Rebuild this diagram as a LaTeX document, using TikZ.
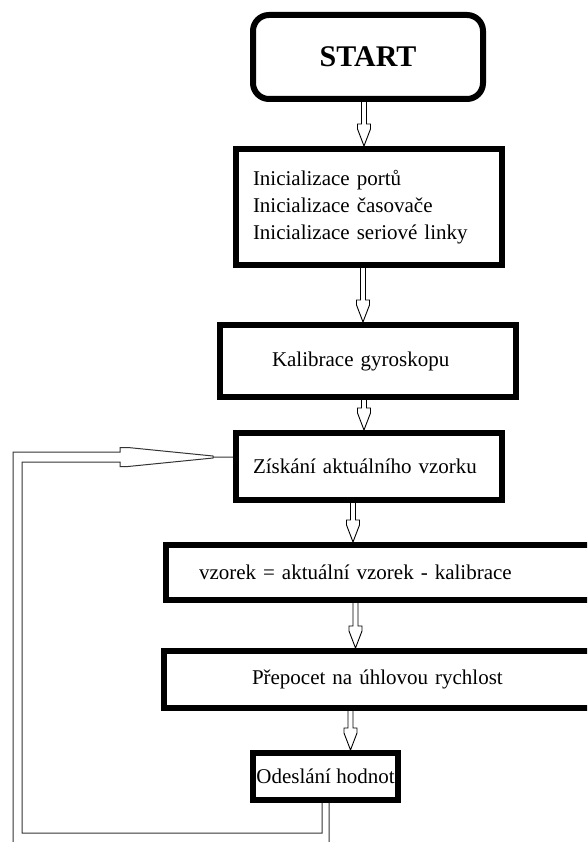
\documentclass[tikz,border=0pt]{standalone}
\usepackage{fontspec}
\setmainfont{Liberation Serif}
\usetikzlibrary{positioning, calc}

% hollow double-line arrow from the bottom of #2 to the top of #3, shifted by #1
\newcommand{\hollowarrow}[3][0pt]{%
  \draw[hollow] let \p1=([xshift=#1]#2.south), \p2=([xshift=#1]#2.south |- #3.north) in
    (\x1-2.5pt,\y1) -- (\x1-2.5pt,\y2+22pt) -- (\x1-6.5pt,\y2+22pt) -- (\x1-6.5pt,\y2+17pt)
    -- (\x1,\y2) -- (\x1+6.5pt,\y2+17pt) -- (\x1+6.5pt,\y2+22pt) -- (\x1+2.5pt,\y2+22pt)
    -- (\x1+2.5pt,\y1);}

\begin{document}
\begin{tikzpicture}[x=1pt, y=-1pt,
    startbox/.style={rectangle, draw=black, line width=6pt, rounded corners=16pt, minimum width=230pt, minimum height=84pt, inner sep=0pt, font=\fontsize{30}{34}\selectfont\bfseries},
    block/.style={rectangle, draw=black, line width=6pt, inner sep=0pt, align=left, font=\fontsize{21}{27}\selectfont},
    hollow/.style={draw=black, line width=0.9pt, line join=miter},
    loopline/.style={draw=black!80, line width=1pt}]

    \useasboundingbox (0,0) rectangle (587,842);
    \clip (0,0) rectangle (587,842);

    \node (start) [startbox] at (368,57) {START};
    \node (init) [block, minimum width=266pt, minimum height=116pt, text width=232pt, below=44pt of start, xshift=1pt]
        {Inicializace portů\\Inicializace časovače\\Inicializace seriové linky};
    \node (kal) [block, minimum width=296pt, minimum height=72pt, text width=192pt, below=54pt of init, xshift=-1pt] {Kalibrace gyroskopu};
    \node (zisk) [block, minimum width=266pt, minimum height=67pt, text width=232pt, below=30pt of kal, xshift=1pt] {Získání aktuálního vzorku};
    \node (vz) [block, minimum width=471pt, minimum height=55pt, text width=405pt, below=39pt of zisk, xshift=32.5pt] {vzorek = aktuální vzorek - kalibrace};
    \node (pre) [block, minimum width=473pt, minimum height=57pt, text width=297pt, below=45pt of vz, xshift=-1pt] {Přepocet na úhlovou rychlost};
    \node (ode) [block, minimum width=145pt, minimum height=47pt, align=center, below=39pt of pre, xshift=-75pt] {Odeslání hodnot};

    \hollowarrow[-4pt]{start}{init}
    \hollowarrow[-6pt]{init}{kal}
    \hollowarrow[-4pt]{kal}{zisk}
    \hollowarrow[-16pt]{zisk}{vz}
    \hollowarrow[-46pt]{vz}{pre}
    \hollowarrow[-50pt]{pre}{ode}

    %% loop back
    \draw[loopline] let \p1=([xshift=-3.5pt]ode.south), \p2=([yshift=9.5pt]zisk.west) in
        (\x1+7pt,\y1) -- (\x1+7pt,\y1-49pt) -- (\x2-220pt,\y1-49pt) -- (\x2-220pt,\y2+5pt)
        -- (\x2-113pt,\y2+5pt) -- (\x2-113pt,\y2+9.5pt) -- (\x2-105pt,\y2+9.5pt) -- (\x2-20pt,\y2+1pt)
        -- (\x2-20pt,\y2-1pt) -- (\x2-105pt,\y2-9.5pt) -- (\x2-113pt,\y2-9.5pt) -- (\x2-113pt,\y2-5pt)
        -- (\x2-211pt,\y2-5pt) -- (\x2-211pt,\y1-30pt) -- (\x1,\y1-30pt) -- (\x1,\y1)
        (\x2-20pt,\y2) -- (\p2);

\end{tikzpicture}
\end{document}
